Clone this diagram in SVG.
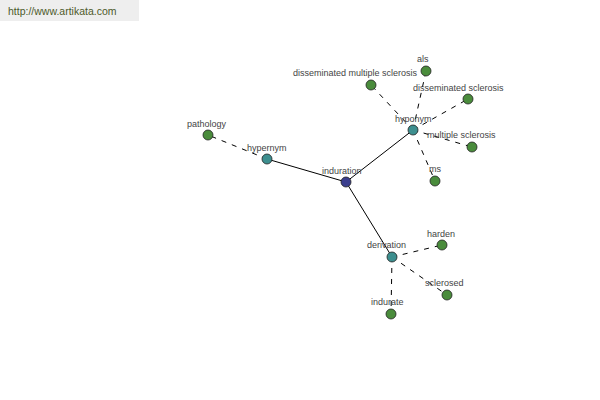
<svg xmlns="http://www.w3.org/2000/svg" width="600" height="400" viewBox="0 0 600 400">
<style>
.lbl{font-family:"Liberation Sans",Arial,sans-serif;font-size:9px;fill:#444;}
.hdr{font-family:"Liberation Sans",Arial,sans-serif;font-size:10.5px;fill:#4d5a2a;}
.solid{stroke:#000;stroke-width:1;fill:none;}
.dash{stroke:#000;stroke-width:1;fill:none;stroke-dasharray:5,6;}
.root{fill:#3b3f8e;stroke:#222;stroke-width:0.8;}
.mid{fill:#3d8f8f;stroke:#222;stroke-width:0.8;}
.leaf{fill:#4a8c3c;stroke:#222;stroke-width:0.8;}
</style>
<rect x="0" y="0" width="600" height="400" fill="#fff"/>
<rect x="0" y="0" width="139" height="21" fill="#eeeeee"/>
<text class="hdr" x="8" y="15">http://www.artikata.com</text>
<g id="connectors">
<line class="solid" x1="346" y1="182" x2="267" y2="159"/>
<line class="solid" x1="346" y1="182" x2="413" y2="130"/>
<line class="solid" x1="346" y1="182" x2="392" y2="257"/>
<line class="dash" x1="267" y1="159" x2="208" y2="135"/>
<line class="dash" x1="413" y1="130" x2="426" y2="71"/>
<line class="dash" x1="413" y1="130" x2="371" y2="85"/>
<line class="dash" x1="413" y1="130" x2="468" y2="99"/>
<line class="dash" x1="413" y1="130" x2="472" y2="147"/>
<line class="dash" x1="413" y1="130" x2="435" y2="181"/>
<line class="dash" x1="392" y1="257" x2="442" y2="245"/>
<line class="dash" x1="392" y1="257" x2="447" y2="295"/>
<line class="dash" x1="392" y1="257" x2="391" y2="314"/>
</g>
<g id="induration"><circle class="root" cx="346" cy="182" r="5"/><text class="lbl" x="322" y="174">induration</text></g>
<g id="hypernym"><circle class="mid" cx="267" cy="159" r="5"/><text class="lbl" x="247" y="151">hypernym</text></g>
<g id="pathology"><circle class="leaf" cx="208" cy="135" r="5"/><text class="lbl" x="187" y="127">pathology</text></g>
<g id="hyponym"><circle class="mid" cx="413" cy="130" r="5"/><text class="lbl" x="395" y="122">hyponym</text></g>
<g id="als"><circle class="leaf" cx="426" cy="71" r="5"/><text class="lbl" x="417" y="62">als</text></g>
<g id="disseminated-multiple-sclerosis"><circle class="leaf" cx="371" cy="85" r="5"/><text class="lbl" x="293" y="76">disseminated multiple sclerosis</text></g>
<g id="disseminated-sclerosis"><circle class="leaf" cx="468" cy="99" r="5"/><text class="lbl" x="413" y="91">disseminated sclerosis</text></g>
<g id="multiple-sclerosis"><circle class="leaf" cx="472" cy="147" r="5"/><text class="lbl" x="427" y="138">multiple sclerosis</text></g>
<g id="ms"><circle class="leaf" cx="435" cy="181" r="5"/><text class="lbl" x="429" y="172">ms</text></g>
<g id="derivation"><circle class="mid" cx="392" cy="257" r="5"/><text class="lbl" x="367" y="248">derivation</text></g>
<g id="harden"><circle class="leaf" cx="442" cy="245" r="5"/><text class="lbl" x="427" y="237">harden</text></g>
<g id="sclerosed"><circle class="leaf" cx="447" cy="295" r="5"/><text class="lbl" x="425" y="286">sclerosed</text></g>
<g id="indurate"><circle class="leaf" cx="391" cy="314" r="5"/><text class="lbl" x="371" y="305">indurate</text></g>
</svg>
